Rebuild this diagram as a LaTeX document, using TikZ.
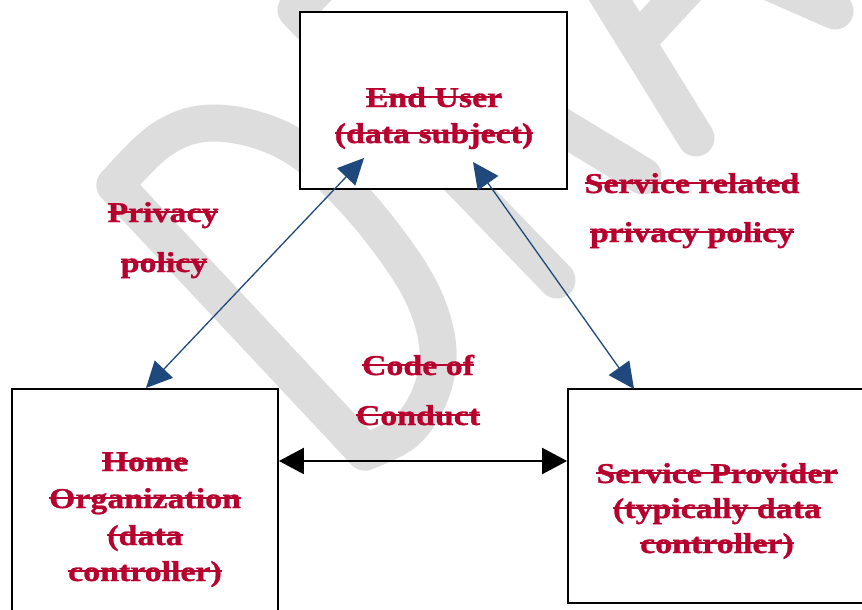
\documentclass[tikz,border=0pt]{standalone}
\usepackage{fontspec}
\newfontfamily\lblfont{Liberation Serif}[FakeStretch=1.18, BoldFeatures={FakeStretch=1.18, FakeBold=1}]
\usetikzlibrary{arrows.meta}
\definecolor{txtred}{RGB}{184,0,46}
\definecolor{arrblue}{RGB}{31,73,125}
\definecolor{wmgray}{RGB}{221,221,221}
\tikzset{
  box/.style={draw=black, line width=1.8pt, fill=white, inner sep=0pt},
  lbl/.style={text=txtred, font=\lblfont\bfseries\fontsize{28.7}{34}\selectfont, anchor=base, inner sep=0pt, outer sep=0pt},
  strike/.style={draw=txtred, line width=2pt},
  wm/.style={draw=wmgray, line width=37pt, line cap=round, line join=round},
  barrow/.style={draw=arrblue, line width=1.3pt, {Triangle[length=26pt,width=25pt]}-{Triangle[length=26pt,width=25pt]}},
  karrow/.style={draw=black, line width=2pt, {Triangle[length=25pt,width=26pt]}-{Triangle[length=25pt,width=26pt]}},
}
\begin{document}
\begin{tikzpicture}[x=1pt,y=-1pt]
\useasboundingbox (0,0) rectangle (862,610);
\clip (0,0) rectangle (862,610);
\fill[white] (0,0) rectangle (862,610);
% watermark
\draw[wm] (115,185) -- (365,452);
\draw[wm] plot[smooth, tension=0.6] coordinates {(115,185) (158,142) (200,124) (250,128) (300,150) (350,195) (395,250) (425,300) (438,350) (430,395) (405,432) (365,452)};
\draw[wm] (340,-35) -- (296,10) -- (557,280);
\draw[wm] (480,77) -- (643,176);
\draw[wm] (597,-22) -- (696,138);
\draw[wm] (637,42) -- (700,-26);
\draw[wm] (835,11) -- (760,-22);
% boxes
\node[box, minimum width=267pt, minimum height=177pt] (eu) at (433.5,100.5) {};
\node[box, minimum width=266pt, minimum height=261pt] (ho) at (145,519.5) {};
\node[box, minimum width=332pt, minimum height=214pt] (sp) at (734,496) {};
% labels
\node[lbl] (eu1) at (434,107) {End User};
\node[lbl] (eu2) at (434,143) {(data subject)};
\node[lbl] (ho1) at (145,471) {Home};
\node[lbl] (ho2) at (145,508) {Organization};
\node[lbl] (ho3) at (145,545) {(data};
\node[lbl] (ho4) at (145,581) {controller)};
\node[lbl] (sp1) at (717,483) {Service Provider};
\node[lbl] (sp2) at (717,518) {(typically data};
\node[lbl] (sp3) at (717,553) {controller)};
\node[lbl] (pp1) at (163,222) {Privacy};
\node[lbl] (pp2) at (164,272) {policy};
\node[lbl] (sr1) at (692,193) {Service related};
\node[lbl] (sr2) at (692,242) {privacy policy};
\node[lbl] (cc1) at (418,375) {Code of};
\node[lbl] (cc2) at (418,425) {Conduct};
\foreach \n in {eu1,eu2,ho1,ho2,ho3,ho4,sp1,sp2,sp3,pp1,pp2,sr1,sr2,cc1,cc2}
  \draw[strike] ([yshift=10pt]\n.base west) -- ([yshift=10pt]\n.base east);
% connectors
\coordinate (euL) at (364,158);
\coordinate (euR) at (473,162);
\coordinate (hoT) at (146,388);
\coordinate (spT) at (634,389);
\draw[barrow] (euL) -- (hoT);
\draw[barrow] (euR) -- (spT);
\draw[karrow] (ho.east |- 0,461) -- (sp.west |- 0,461);
\end{tikzpicture}
\end{document}
